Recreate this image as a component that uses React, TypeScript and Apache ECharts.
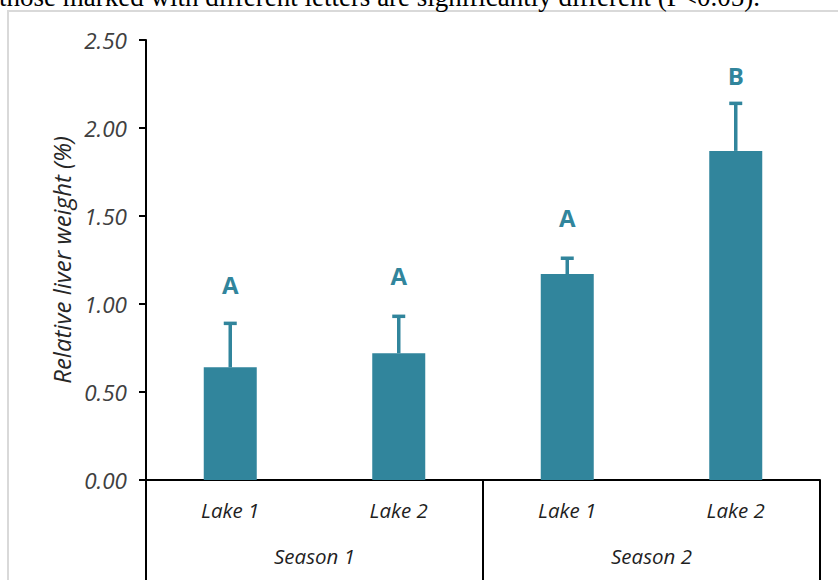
import React, { useEffect, useRef } from "react";
import * as echarts from "echarts";

// Relative liver weight by lake and season (mean + SD)
const lakes = ["Lake 1", "Lake 2", "Lake 1", "Lake 2"];
const seasons = ["Season 1", "Season 2"];
const means = [0.64, 0.72, 1.17, 1.87];
const sds = [0.25, 0.21, 0.09, 0.27];
const letters = ["A", "A", "A", "B"];
const letterLevels = [1.11, 1.16, 1.49, 2.3];
const yTicks = [0, 0.5, 1, 1.5, 2, 2.5];

const TEAL = "#31859C";
const FONT = "'Open Sans', Lato, sans-serif";

export default function App() {
  const ref = useRef<HTMLDivElement>(null);

  useEffect(() => {
    if (!ref.current) return;
    const chart = echarts.init(ref.current, undefined, { renderer: "svg" });

    const errData = means.map((m, i) => [i, m, sds[i]]);
    const letterData = letters.map((l, i) => [i, letterLevels[i], l]);

    chart.setOption({
      animation: false,
      backgroundColor: "#ffffff",
      grid: { left: 146, right: 18, top: 40, bottom: 100, containLabel: false },
      graphic: [
        {
          type: "rect",
          shape: { x: 8, y: 11, width: 900, height: 700 },
          style: { fill: "none", stroke: "#d9d9d9", lineWidth: 2 },
          silent: true,
          z: -1,
        },
        {
          type: "text",
          x: -1,
          y: -3,
          style: {
            text: "those marked with different letters are significantly different (P<0.05).",
            fontFamily: "'Liberation Serif', 'DejaVu Serif', serif",
            fontSize: 27,
            fill: "#000000",
            verticalAlign: "middle",
            align: "left",
          },
        },
      ],
      xAxis: [
        {
          type: "category",
          data: lakes,
          position: "bottom",
          axisLine: { show: true, lineStyle: { color: "#000000", width: 2 } },
          axisTick: { show: false },
          axisLabel: {
            margin: 20,
            fontFamily: FONT,
            fontStyle: "italic",
            fontSize: 20.5,
            color: "#1f1f1f",
          },
          splitLine: { show: false },
        },
        {
          type: "category",
          data: seasons,
          position: "bottom",
          axisLine: { show: false },
          axisTick: {
            show: true,
            length: 100,
            lineStyle: { color: "#000000", width: 2 },
          },
          axisLabel: {
            margin: 66,
            fontFamily: FONT,
            fontStyle: "italic",
            fontSize: 20.5,
            color: "#1f1f1f",
          },
          splitLine: { show: false },
        },
      ],
      yAxis: {
        type: "value",
        min: yTicks[0],
        max: yTicks[yTicks.length - 1],
        interval: 0.5,
        name: "Relative liver weight (%)",
        nameLocation: "middle",
        nameGap: 72,
        nameTextStyle: {
          fontFamily: FONT,
          fontStyle: "italic",
          fontSize: 24,
          color: "#262626",
        },
        axisLine: { show: true, lineStyle: { color: "#000000", width: 2 } },
        axisTick: {
          show: true,
          inside: false,
          length: 7,
          lineStyle: { color: "#000000", width: 2 },
        },
        axisLabel: {
          margin: 19,
          fontFamily: FONT,
          fontStyle: "italic",
          fontSize: 22.5,
          color: "#404040",
          formatter: (v: number) => v.toFixed(2),
        },
        splitLine: { show: false },
      },
      series: [
        {
          type: "bar",
          xAxisIndex: 0,
          data: means,
          barWidth: 53,
          itemStyle: { color: TEAL },
        },
        {
          type: "custom",
          xAxisIndex: 0,
          data: errData,
          z: 3,
          renderItem: (params: any, api: any) => {
            const i = api.value(0);
            const m = api.value(1);
            const sd = api.value(2);
            const base = api.coord([i, m]);
            const top = api.coord([i, m + sd]);
            const half = 6.5;
            return {
              type: "group",
              children: [
                {
                  type: "line",
                  shape: { x1: base[0], y1: base[1], x2: top[0], y2: top[1] },
                  style: { stroke: TEAL, lineWidth: 3.5 },
                },
                {
                  type: "line",
                  shape: { x1: top[0] - half, y1: top[1], x2: top[0] + half, y2: top[1] },
                  style: { stroke: TEAL, lineWidth: 3.5 },
                },
              ],
            };
          },
        },
        {
          type: "custom",
          xAxisIndex: 0,
          data: letterData,
          z: 4,
          renderItem: (params: any, api: any) => {
            const i = api.value(0);
            const lv = api.value(1);
            const p = api.coord([i, lv]);
            return {
              type: "text",
              x: p[0],
              y: p[1],
              style: {
                text: letters[params.dataIndex],
                fontFamily: FONT,
                fontWeight: "bold",
                fontSize: 24,
                fill: TEAL,
                align: "center",
                verticalAlign: "middle",
              },
            };
          },
        },
      ],
    });

    return () => chart.dispose();
  }, []);

  return (
    <div
      ref={ref}
      style={{ position: "fixed", left: 0, top: 0, width: 838, height: 580 }}
    />
  );
}
